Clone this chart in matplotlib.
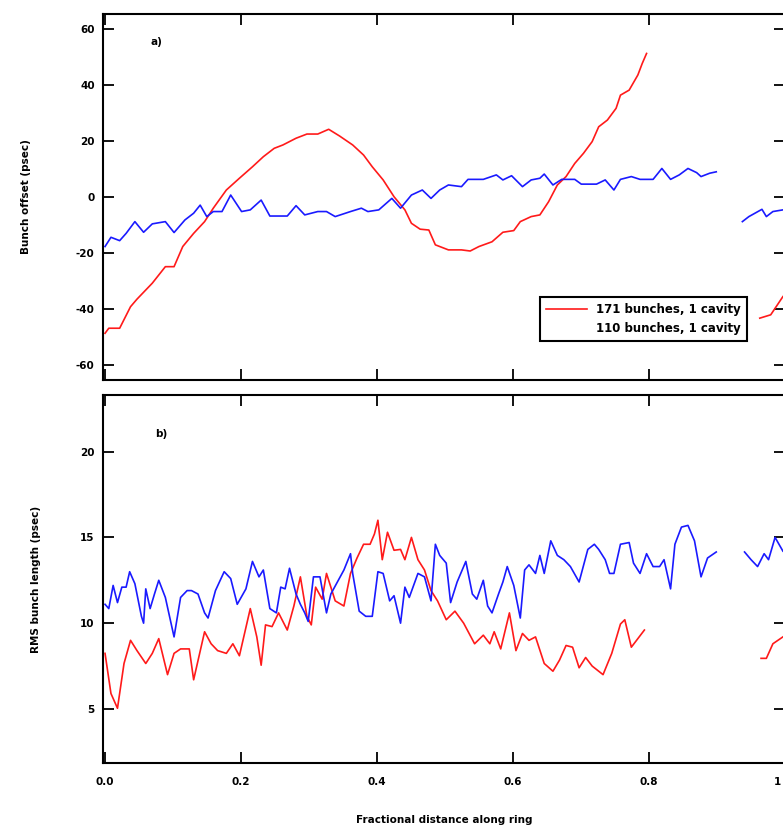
import matplotlib
matplotlib.use("Agg")
import matplotlib.pyplot as plt
import numpy as np

# --- panel a) bunch offset ---
x_off_red = [0.0, 0.0055, 0.0215, 0.0375, 0.047, 0.0695, 0.0887, 0.1015, 0.1143, 0.1303,
             0.1464, 0.1592, 0.1784, 0.1976, 0.2168, 0.2328, 0.2488, 0.2616, 0.2809, 0.2969,
             0.3129, 0.3289, 0.3449, 0.3642, 0.3802, 0.3930, 0.4090, 0.4250, 0.4410, 0.4506,
             0.4634, 0.4762, 0.4858, 0.5050, 0.5242, 0.5370, 0.5499, 0.5691, 0.5851, 0.6011,
             0.6107, 0.6267, 0.6395, 0.6523, 0.6652, 0.6780, 0.6908, 0.7036, 0.7164, 0.7260,
             0.7388, 0.7516, 0.7580, 0.7708, 0.7836, 0.7900, 0.7964]
y_off_red = [-48.7, -46.9, -46.9, -39.2, -36.5, -30.8, -24.9, -24.9, -17.7, -13.0,
             -8.8, -4.0, 2.5, 6.7, 10.8, 14.4, 17.4, 18.6, 21.0, 22.5,
             22.5, 24.2, 21.8, 18.6, 15.0, 10.8, 6.1, 0.1, -4.6, -9.4,
             -11.5, -11.8, -17.1, -18.9, -18.9, -19.3, -17.7, -16.0, -12.6, -12.0,
             -8.8, -7.0, -6.4, -1.7, 4.3, 7.3, 12.0, 15.6, 19.8, 25.1,
             27.5, 31.7, 36.4, 38.2, 43.6, 47.7, 51.3]
x_off_red2 = [0.9629, 0.9790, 0.9969]
y_off_red2 = [-43.3, -42.1, -35.6]

x_off_blue = [0.0, 0.0087, 0.0215, 0.031, 0.0439, 0.0567, 0.0695, 0.0887, 0.1015, 0.1175,
              0.1303, 0.1399, 0.1496, 0.1592, 0.172, 0.1848, 0.2008, 0.2136, 0.2296, 0.2424,
              0.268, 0.2809, 0.2937, 0.3129, 0.3257, 0.3385, 0.361, 0.377, 0.3866, 0.4026,
              0.4218, 0.4346, 0.4506, 0.4666, 0.4794, 0.4922, 0.505, 0.5242, 0.5338, 0.5563,
              0.5755, 0.5851, 0.5979, 0.6139, 0.6267, 0.6395, 0.6459, 0.6587, 0.6716, 0.6908,
              0.7004, 0.7228, 0.7356, 0.7484, 0.758, 0.774, 0.7868, 0.806, 0.8189, 0.8317,
              0.8445, 0.8573, 0.8701, 0.8765, 0.8893, 0.8989]
y_off_blue = [-17.7, -14.4, -15.6, -13.0, -8.8, -12.6, -9.6, -8.8, -12.7, -8.2,
              -5.8, -2.9, -7.0, -5.2, -5.2, 0.7, -5.2, -4.6, -1.1, -6.8,
              -6.8, -3.1, -6.4, -5.2, -5.2, -7.0, -5.2, -4.0, -5.2, -4.6,
              -0.5, -4.0, 0.7, 2.5, -0.5, 2.5, 4.3, 3.7, 6.3, 6.3,
              7.9, 6.1, 7.6, 3.7, 6.1, 6.7, 8.2, 4.3, 6.3, 6.3,
              4.6, 4.6, 6.1, 2.5, 6.3, 7.3, 6.3, 6.3, 10.2, 6.3,
              7.9, 10.2, 8.7, 7.3, 8.5, 9.0]
x_off_blue2 = [0.9373, 0.9469, 0.9661, 0.9726, 0.9822, 0.9969]
y_off_blue2 = [-8.8, -7.0, -4.4, -7.0, -5.2, -4.6]

# --- panel b) rms bunch length ---
x_len_blue = [0.0, 0.0055, 0.0119, 0.0183, 0.0247, 0.031, 0.0362, 0.0439, 0.0535, 0.0567,
              0.0599, 0.0663, 0.0727, 0.079, 0.0887, 0.1015, 0.1111, 0.1207, 0.1271, 0.1367,
              0.1464, 0.1515, 0.1624, 0.1752, 0.1848, 0.1944, 0.2072, 0.2168, 0.2264, 0.2328,
              0.2424, 0.252, 0.2584, 0.2648, 0.2713, 0.2809, 0.2873, 0.2937, 0.2988, 0.3065,
              0.3161, 0.3257, 0.3321, 0.3417, 0.3513, 0.361, 0.3642, 0.3738, 0.3834, 0.393,
              0.4013, 0.409, 0.4186, 0.425, 0.4346, 0.441, 0.4474, 0.4602, 0.4698, 0.4794,
              0.4858, 0.4922, 0.5018, 0.5082, 0.5178, 0.5306, 0.5402, 0.5467, 0.5563, 0.5627,
              0.5691, 0.5787, 0.5851, 0.5915, 0.6011, 0.6107, 0.6171, 0.6235, 0.6331, 0.6395,
              0.6459, 0.6555, 0.6652, 0.6748, 0.6844, 0.6972, 0.71, 0.7196, 0.726, 0.7356,
              0.742, 0.7484, 0.758, 0.7708, 0.7772, 0.7868, 0.7964, 0.806, 0.8156, 0.8221,
              0.8317, 0.8381, 0.8477, 0.8573, 0.8669, 0.8765, 0.8861, 0.8989]
y_len_blue = [11.1, 10.85, 12.2, 11.2, 12.1, 12.1, 13.0, 12.3, 10.4, 10.0,
              12.0, 10.85, 11.7, 12.5, 11.5, 9.2, 11.5, 11.9, 11.9, 11.7,
              10.6, 10.3, 11.9, 13.0, 12.6, 11.1, 12.0, 13.6, 12.7, 13.1,
              10.85, 10.6, 12.1, 12.0, 13.2, 11.7, 11.1, 10.6, 10.1, 12.7,
              12.7, 10.6, 11.7, 12.4, 13.1, 14.05, 12.9, 10.7, 10.4, 10.4,
              13.0, 12.9, 11.3, 11.6, 10.0, 12.1, 11.5, 12.9, 12.7, 11.3,
              14.6, 13.95, 13.5, 11.2, 12.4, 13.6, 11.7, 11.4, 12.5, 11.0,
              10.6, 11.7, 12.4, 13.3, 12.2, 10.3, 13.1, 13.4, 12.9, 13.95,
              12.9, 14.8, 13.95, 13.7, 13.3, 12.4, 14.3, 14.6, 14.3, 13.7,
              12.9, 12.9, 14.6, 14.7, 13.5, 12.9, 14.05, 13.3, 13.3, 13.7,
              12.0, 14.6, 15.6, 15.7, 14.8, 12.7, 13.8, 14.15]
x_len_blue2 = [0.9405, 0.9501, 0.9597, 0.9693, 0.9758, 0.9854, 0.9969]
y_len_blue2 = [14.15, 13.7, 13.3, 14.05, 13.7, 15.0, 14.2]

x_len_red = [0.0, 0.0087, 0.0183, 0.0279, 0.0375, 0.047, 0.0599, 0.0695, 0.079, 0.0919,
             0.1015, 0.1111, 0.1239, 0.1303, 0.1464, 0.156, 0.1656, 0.1784, 0.188, 0.1976,
             0.2136, 0.2232, 0.2296, 0.236, 0.2456, 0.2552, 0.268, 0.2777, 0.2873, 0.2969,
             0.3033, 0.3097, 0.3193, 0.3257, 0.3385, 0.3513, 0.361, 0.3706, 0.3802, 0.3898,
             0.3962, 0.4013, 0.4077, 0.4154, 0.425, 0.4346, 0.441, 0.4506, 0.4602, 0.4698,
             0.4794, 0.489, 0.5018, 0.5146, 0.5274, 0.5435, 0.5563, 0.5659, 0.5723, 0.5819,
             0.5947, 0.6043, 0.6139, 0.6235, 0.6331, 0.6459, 0.6587, 0.6684, 0.678, 0.6876,
             0.6972, 0.7068, 0.7164, 0.7324, 0.7452, 0.758, 0.7644, 0.774, 0.7836, 0.7932]
y_len_red = [8.24, 5.9, 5.04, 7.65, 9.0, 8.4, 7.65, 8.24, 9.1, 7.0,
             8.24, 8.5, 8.5, 6.7, 9.5, 8.8, 8.4, 8.24, 8.8, 8.1,
             10.85, 9.2, 7.55, 9.9, 9.8, 10.6, 9.6, 11.0, 12.7, 10.4,
             9.9, 12.1, 11.4, 12.9, 11.3, 11.0, 12.9, 13.8, 14.6, 14.6,
             15.2, 16.0, 13.7, 15.3, 14.25, 14.3, 13.7, 15.0, 13.7, 13.1,
             11.9, 11.3, 10.2, 10.7, 10.0, 8.8, 9.3, 8.8, 9.5, 8.5,
             10.6, 8.4, 9.4, 9.0, 9.2, 7.65, 7.2, 7.85, 8.7, 8.6,
             7.4, 8.0, 7.5, 7.0, 8.24, 9.95, 10.2, 8.6, 9.1, 9.6]
x_len_red2 = [0.9648, 0.9726, 0.9822, 0.9969]
y_len_red2 = [7.95, 7.95, 8.8, 9.2]

x_ticks = [0.0, 0.2, 0.4, 0.6, 0.8, 1.0]
x_ticklabels = ["0.0", "0.2", "0.4", "0.6", "0.8", "1"]
off_ticks = [-60, -40, -20, 0, 20, 40, 60]
len_ticks = [5, 10, 15, 20]
labels = ["171 bunches, 1 cavity", "110 bunches, 1 cavity"]

fs = 7.5
fig = plt.figure(figsize=(7.83, 8.30), dpi=100)
ax1 = fig.add_axes([103/783, 450/830, 682/783, 366/830])
ax2 = fig.add_axes([103/783, 67/830, 682/783, 368/830])

lr, = ax1.plot(x_off_red, y_off_red, color="#ff1a1a", lw=1.2)
ax1.plot(x_off_red2, y_off_red2, color="#ff1a1a", lw=1.2)
lb, = ax1.plot(x_off_blue, y_off_blue, color="#1a1aff", lw=1.2)
ax1.plot(x_off_blue2, y_off_blue2, color="#1a1aff", lw=1.2)

ax2.plot(x_len_red, y_len_red, color="#ff1a1a", lw=1.2)
ax2.plot(x_len_red2, y_len_red2, color="#ff1a1a", lw=1.2)
ax2.plot(x_len_blue, y_len_blue, color="#1a1aff", lw=1.2)
ax2.plot(x_len_blue2, y_len_blue2, color="#1a1aff", lw=1.2)

for ax in (ax1, ax2):
    ax.set_xlim(-0.003, 1.0)
    ax.set_xticks(x_ticks)
    ax.tick_params(direction="in", length=8, width=1.3, top=True, right=True,
                   labelsize=fs, pad=6)
    ax.tick_params(axis="x", pad=10)
    for s in ax.spines.values():
        s.set_linewidth(1.5)

ax1.set_xticklabels([])
ax1.set_ylim(-65.4, 65.4)
ax1.set_yticks(off_ticks)
ax1.set_yticklabels([str(v) for v in off_ticks], fontweight="bold", fontsize=fs)
ax1.set_ylabel("Bunch offset (psec)", fontsize=fs, fontweight="bold", labelpad=32)
ax1.text(0.069, 0.915, "a)", transform=ax1.transAxes, fontsize=fs, fontweight="bold")

leg = ax1.legend([lr, lb], labels, loc="lower right", bbox_to_anchor=(0.953, 0.09),
                 fancybox=False, edgecolor="black", framealpha=1,
                 handlelength=3.5, borderpad=0.5, labelspacing=0.5,
                 prop={"weight": "bold", "size": fs + 1})
leg.get_frame().set_linewidth(1.5)
leg.get_lines()[1].set_visible(False)

ax2.set_ylim(1.85, 23.3)
ax2.set_yticks(len_ticks)
ax2.set_yticklabels([str(v) for v in len_ticks], fontweight="bold", fontsize=fs)
# last label sits on the cropped right edge, draw it slightly inside
ax2.set_xticklabels(x_ticklabels[:-1] + [""], fontweight="bold", fontsize=fs)
ax2.annotate(x_ticklabels[-1], xy=(x_ticks[-1], 0), xycoords=("data", "axes fraction"),
             xytext=(-3, -10), textcoords="offset points", ha="right", va="top",
             fontsize=fs, fontweight="bold")
ax2.set_ylabel("RMS bunch length (psec)", fontsize=fs, fontweight="bold", labelpad=28)
ax2.set_xlabel("Fractional distance along ring", fontsize=fs, fontweight="bold", labelpad=20)
ax2.text(0.076, 0.886, "b)", transform=ax2.transAxes, fontsize=fs, fontweight="bold")

fig.savefig("out.png", dpi=100)
